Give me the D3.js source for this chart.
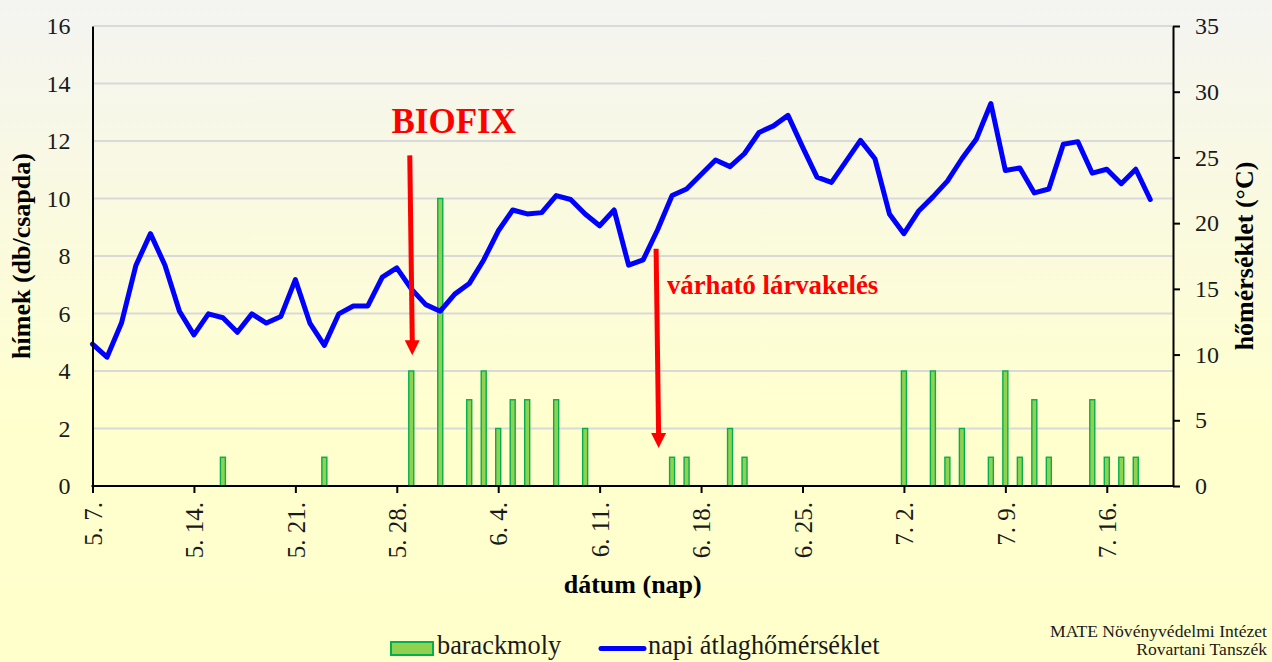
<!DOCTYPE html>
<html><head><meta charset="utf-8">
<script src="https://cdn.jsdelivr.net/npm/d3@7"></script>
<style>body{margin:0;background:#fff;} svg{display:block;}</style>
</head><body>
<svg id="c" width="1272" height="662"></svg>
<script>
// ---- data ----
const tempStart = "2023-05-07";
const temperature = [10.8, 9.8, 12.4, 16.8, 19.2, 16.8, 13.3, 11.5, 13.1, 12.8,
  11.7, 13.1, 12.4, 12.9, 15.7, 12.4, 10.7, 13.1, 13.7, 13.7,
  15.9, 16.6, 15.0, 13.8, 13.3, 14.6, 15.4, 17.2, 19.4, 21.0,
  20.7, 20.8, 22.1, 21.8, 20.7, 19.8, 21.0, 16.8, 17.2, 19.5,
  22.1, 22.6, 23.7, 24.8, 24.3, 25.3, 26.9, 27.4, 28.2, 25.8,
  23.5, 23.1, 24.7, 26.3, 24.9, 20.7, 19.2, 20.9, 22.0, 23.2,
  24.9, 26.4, 29.1, 24.0, 24.2, 22.3, 22.6, 26.0, 26.2, 23.8,
  24.1, 23.0, 24.1, 21.8];
const barDates = ["2023-05-16","2023-05-23","2023-05-29","2023-05-31","2023-06-02","2023-06-03",
  "2023-06-04","2023-06-05","2023-06-06","2023-06-08","2023-06-10","2023-06-16","2023-06-17",
  "2023-06-20","2023-06-21","2023-07-02","2023-07-04","2023-07-05","2023-07-06","2023-07-08",
  "2023-07-09","2023-07-10","2023-07-11","2023-07-12","2023-07-15","2023-07-16","2023-07-17","2023-07-18"];
const barValues = [1,1,4,10,3,4,2,3,3,3,2,1,1,2,1,4,4,1,2,1,4,1,3,1,3,1,1,1];
const tickDates = ["2023-05-07","2023-05-14","2023-05-21","2023-05-28","2023-06-04","2023-06-11",
  "2023-06-18","2023-06-25","2023-07-02","2023-07-09","2023-07-16"];
const tickLabels = ["5. 7.","5. 14.","5. 21.","5. 28.","6. 4.","6. 11.","6. 18.","6. 25.","7. 2.","7. 9.","7. 16."];
const yLeftTicks = [0,2,4,6,8,10,12,14,16];
const yRightTicks = [0,5,10,15,20,25,30,35];
const seriesNames = ["barackmoly","napi átlaghőmérséklet"];
const axisTitles = {left:"hímek (db/csapda)", right:"hőmérséklet (°C)", bottom:"dátum (nap)"};
const credit = ["MATE Növényvédelmi Intézet","Rovartani Tanszék"];
const annotations = [
  {text:"BIOFIX", date:"2023-05-29", top:11.5, tip:4.55},
  {text:"várható lárvakelés", date:"2023-06-15", top:8.25, tip:1.32}
];

// ---- setup ----
const W = 1272, H = 662;
const L = 92.5, R = 1173, T = 26, B = 486;
const FONT = "'Liberation Serif','Times New Roman',serif";
const svg = d3.select("#c");
const parse = d3.utcParse("%Y-%m-%d");
const start = parse(tempStart);
const xEnd = new Date(start.getTime() + 74.57 * 864e5);
const x = d3.scaleUtc().domain([start, xEnd]).range([L, R]);
const yL = d3.scaleLinear().domain([0, 16]).range([B, T]);
const yR = d3.scaleLinear().domain([0, 35]).range([B, T]);

const tempData = temperature.map((v, i) => ({d: d3.utcDay.offset(start, i), v}));
const barData = barDates.map((s, i) => ({d: parse(s), v: barValues[i]}));

// background
const defs = svg.append("defs");
const grad = defs.append("linearGradient").attr("id","bg").attr("x1",0).attr("y1",0).attr("x2",0).attr("y2",1);
grad.append("stop").attr("offset","0%").attr("stop-color","#f4f4f2");
grad.append("stop").attr("offset","62%").attr("stop-color","#ffffcf");
grad.append("stop").attr("offset","100%").attr("stop-color","#ffffcc");
svg.append("rect").attr("width",W).attr("height",H).attr("fill","url(#bg)");

// gridlines
svg.append("g").selectAll("line").data(yLeftTicks.filter(t => t > 0)).join("line")
  .attr("x1", L + 1).attr("x2", R).attr("y1", d => yL(d)).attr("y2", d => yL(d))
  .attr("stroke", "#d9d9d9").attr("stroke-width", 2);

// bars
const bw = 5;
svg.append("g").selectAll("rect").data(barData).join("rect")
  .attr("x", d => x(d.d) - bw / 2).attr("width", bw)
  .attr("y", d => yL(d.v)).attr("height", d => B - yL(d.v))
  .attr("fill", "#92d050").attr("stroke", "#00b050").attr("stroke-width", 1.4);

// temperature line
svg.append("path").datum(tempData)
  .attr("d", d3.line().x(d => x(d.d)).y(d => yR(d.v)))
  .attr("fill", "none").attr("stroke", "#0000ff").attr("stroke-width", 5)
  .attr("stroke-linejoin", "round").attr("stroke-linecap", "round");

// axes
function styleAxis(g, size) {
  g.selectAll(".domain").attr("stroke", "#000").attr("stroke-width", 2);
  g.selectAll(".tick line").attr("stroke", "#000").attr("stroke-width", 2);
  g.selectAll("text").attr("font-family", FONT).attr("font-size", size).attr("fill", "#1a1a1a");
}
const gl = svg.append("g").attr("transform", `translate(${L},0)`)
  .call(d3.axisLeft(yL).tickValues(yLeftTicks).tickSize(0).tickPadding(22));
styleAxis(gl, 24);
const gr = svg.append("g").attr("transform", `translate(${R},0)`)
  .call(d3.axisRight(yR).tickValues(yRightTicks).tickSizeInner(7).tickSizeOuter(0).tickPadding(15));
styleAxis(gr, 24);
const gb = svg.append("g").attr("transform", `translate(0,${B})`)
  .call(d3.axisBottom(x).tickValues(tickDates.map(parse)).tickFormat((d, i) => tickLabels[i])
    .tickSizeInner(7).tickSizeOuter(0));
styleAxis(gb, 25);
gb.selectAll("text").attr("transform", "rotate(-90)").attr("x", -16).attr("y", 0)
  .attr("dy", "0.35em").attr("text-anchor", "end");
gb.select(".domain").attr("d", `M${L - 1},0H${R + 1}`);

// axis titles
svg.append("text").attr("transform", `translate(30,256) rotate(-90)`).attr("text-anchor", "middle")
  .attr("font-family", FONT).attr("font-weight", "bold").attr("font-size", 26).attr("fill", "#000")
  .text(axisTitles.left);
svg.append("text").attr("transform", `translate(1253,256) rotate(-90)`).attr("text-anchor", "middle")
  .attr("font-family", FONT).attr("font-weight", "bold").attr("font-size", 26).attr("fill", "#000")
  .text(axisTitles.right);
svg.append("text").attr("x", (L + R) / 2).attr("y", 593).attr("text-anchor", "middle")
  .attr("font-family", FONT).attr("font-weight", "bold").attr("font-size", 26).attr("fill", "#000")
  .text(axisTitles.bottom);

// annotations
annotations.forEach((a, i) => {
  const ax = x(parse(a.date));
  const yTop = yL(a.top), yTip = yL(a.tip);
  const head = 15;
  svg.append("line").attr("x1", ax - 1.5).attr("y1", yTop).attr("x2", ax + 1).attr("y2", yTip - head + 1)
    .attr("stroke", "#ff0000").attr("stroke-width", 5);
  svg.append("path").attr("d", `M${ax + 1 - 7.5},${yTip - head}L${ax + 1 + 7.5},${yTip - head}L${ax + 1},${yTip}Z`)
    .attr("fill", "#ff0000");
});
svg.append("text").attr("x", 391.5).attr("y", 133).attr("font-family", FONT).attr("font-weight", "bold")
  .attr("font-size", 35).attr("fill", "#ff0000").text(annotations[0].text);
svg.append("text").attr("x", 667).attr("y", 294).attr("font-family", FONT).attr("font-weight", "bold")
  .attr("font-size", 26.7).attr("fill", "#ff0000").text(annotations[1].text);

// legend
const lg = svg.append("g");
lg.append("rect").attr("x", 391).attr("y", 642).attr("width", 42).attr("height", 13)
  .attr("fill", "#92d050").attr("stroke", "#00b050").attr("stroke-width", 2);
lg.append("text").attr("x", 437).attr("y", 654).attr("font-family", FONT).attr("font-size", 26.3)
  .attr("fill", "#1a1a1a").text(seriesNames[0]);
lg.append("line").attr("x1", 601).attr("x2", 644).attr("y1", 648.5).attr("y2", 648.5)
  .attr("stroke", "#0000ff").attr("stroke-width", 5).attr("stroke-linecap", "round");
lg.append("text").attr("x", 648).attr("y", 654).attr("font-family", FONT).attr("font-size", 26.3)
  .attr("fill", "#1a1a1a").text(seriesNames[1]);

// credit
credit.forEach((t, i) => {
  svg.append("text").attr("x", 1267).attr("y", 637 + i * 18).attr("text-anchor", "end")
    .attr("font-family", FONT).attr("font-size", 17.6).attr("fill", "#1a1a1a").text(t);
});
</script>
</body></html>
